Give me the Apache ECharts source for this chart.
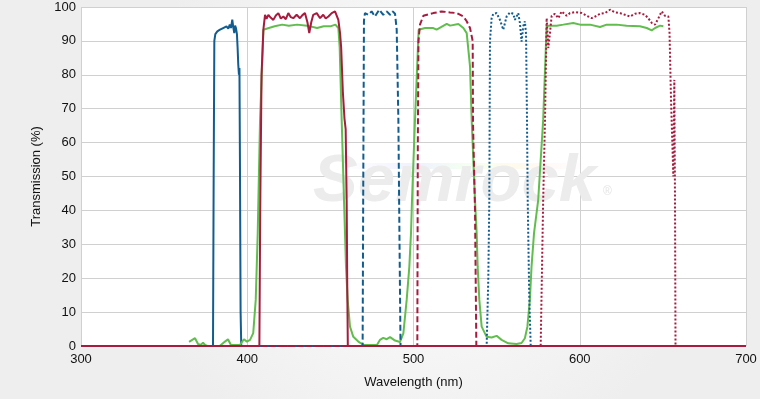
<!DOCTYPE html>
<html>
<head>
<meta charset="utf-8">
<script src="https://cdn.jsdelivr.net/npm/echarts@6/dist/echarts.min.js"></script>
<style>
  html, body { margin: 0; padding: 0; }
  #chart { width: 760px; height: 399px; }
</style>
</head>
<body>
<div id="chart"></div>
<script>
// wavelength (nm), transmission (%)
const blueSolid = [
  [300,0],[379.4,0],[379.8,50],[380.2,90],[380.8,92],[382,92.8],[383.6,93.3],[384.5,92.8],[385.5,93.8],
  [386.6,93.5],[387.5,94.3],[388.6,93.6],[389.5,94.8],[390.2,93.8],[391,96.3],[391.6,94],[392.2,92.3],
  [392.7,94.5],[393.2,93.8],[393.8,92],[394.2,88],[394.6,83],[395,80],[395.3,82],[395.6,55],[396,10],
  [396.4,0],[700,0]
]
const greenSolid = [
  [365,1.2],[368.6,2.3],[370.4,0.6],[372,0.3],[373.4,1],[374.6,0.3],[376,0],[383.6,0.1],[386.6,1.3],
  [388.4,2],[390.2,0.3],[395.6,0.3],[398,2],[399.8,1.3],[401.7,1.8],[403.6,3.8],[405.1,13.6],[405.7,23.4],
  [406.3,33.3],[406.7,43],[407.7,66.7],[409.7,93.3],[413,93.8],[416.5,94.3],[421,94.8],[425,94.5],
  [430,94.8],[436,94.5],[442,93.8],[446,94.3],[450,94.3],[453,94.8],[454.8,93.8],[455.6,88],[456.8,66.7],
  [458.2,43],[458.8,33.3],[459.4,23.4],[460.4,13.6],[461.8,5.7],[463.8,2.7],[466.8,1.3],[470,0.3],
  [478,0.3],[479.8,1.8],[481.8,2.4],[483.9,2],[485.9,2.6],[488.9,1.6],[491.9,1.2],[493.9,3.7],
  [495.9,13.6],[497.5,23.4],[498.5,33.3],[499.1,43],[500.9,66.7],[503.1,93.3],[507,93.8],[511.9,93.8],
  [513.9,93.3],[520,95],[522,94.5],[527,95],[530,93.8],[532,92.3],[534,82.5],[535,66.7],[537,43],
  [538,33.3],[538.6,23.4],[539.6,13.6],[541,5.7],[544,2.7],[547,2.5],[550,3],[553,1.8],[557,0.8],
  [562,0.6],[565,0.9],[567,2.3],[568.5,5.7],[570,13.6],[571,23.4],[572.5,33.3],[575,43],[578,66.7],
  [580.1,94.5],[586.1,94.5],[590.1,94.8],[596.1,95.3],[600.2,94.8],[606.2,94.8],[612.2,94.1],
  [616.2,94.8],[622.2,94.8],[628.2,94.5],[636.2,94.3],[640.3,93.8],[643.3,93.1],[645.3,93.8],
  [648.3,94.5],[650.3,94.3]
]
const redSolid = [
  [300,0],[407.3,0],[407.8,40],[408.6,80],[409.7,93.3],[410.7,97.7],[411.6,96.5],[412.7,97.7],
  [414.2,96.8],[415.7,96.2],[417.2,97.5],[418.7,98.2],[420.2,96.6],[421.7,97.2],[423.2,96.4],
  [424.7,98.2],[426.2,97],[427.7,96.7],[429.7,97.7],[431.7,96.7],[433.2,97.6],[434.7,98.2],
  [436.2,95.5],[437.3,92.3],[438.5,95.5],[439.7,97.7],[441.8,98.2],[443.8,96.7],[445.7,97.7],
  [447.2,96.6],[448.8,97.2],[450.8,98.2],[452.8,98.7],[454.8,96.2],[455.8,92.4],[456.5,88],
  [457.5,75],[458.5,67],[459.2,64],[459.8,43],[460.2,15],[460.5,0],[700,0]
]
const blueDashed = [
  [300,0],[469.4,0],[469.8,50],[470.2,96],[470.8,98.2],[472.8,97.7],[474.8,98.7],[476.8,97.2],
  [479.4,99.2],[481.8,97.7],[483.9,98.7],[485.9,97.7],[487.5,98.7],[488.9,98],[489.9,93.3],
  [490.9,66.7],[491.6,30],[492.2,0],[700,0]
]
const redDashed = [
  [300,0],[502.3,0],[502.6,60],[503,90],[503.9,94.8],[505.9,97.4],[511.9,98.2],[517,98.7],[522,98.4],
  [526,98.2],[530,97.2],[532,95.8],[534,93.8],[535,93.3],[535.6,90],[535.8,66],[537,40],[537.8,0],[700,0]
]
const blueDotted = [
  [300,0],[544,0],[545,20],[545.6,43],[546,90],[547,96.7],[548,98],[550,98.2],[552,96.2],[554,93.3],
  [556,97.2],[558,98.4],[560,98],[561,96.2],[563,98.2],[564,95.3],[565,89.8],[566,94.3],[567,95.8],
  [567.7,92],[568.2,70],[568.7,43],[569.6,15],[570.5,0],[700,0]
]
const redDotted = [
  [300,0],[576.5,0],[578,43],[579.1,66.7],[580.1,96.7],[581.1,87.9],[582.1,92.3],[583.1,97.4],
  [585.1,98],[587.1,96.7],[589.1,98.7],[592.1,97.4],[594.1,98.2],[597.1,98.5],[601.2,98.2],
  [604.2,97.4],[607.2,96.7],[610.2,97.4],[612.2,98],[615.2,98.2],[618.2,99.2],[621.2,98.4],
  [624.2,98.2],[627.2,97.7],[630.2,97.2],[633.2,98],[636.2,98.2],[639.2,97.7],[641.2,96.7],
  [643.3,95.3],[645.3,94.8],[647.3,96.7],[649.3,98.7],[651.3,97.4],[653.3,97.2],[654,92.4],
  [654.9,72.6],[655.5,63],[656.3,50],[656.9,78.5],[657.3,43],[657.6,0],[700,0]
]
const xTicks = [300, 400, 500, 600, 700]
const yTicks = [0, 10, 20, 30, 40, 50, 60, 70, 80, 90, 100]

const BLUE = '#115d8f'
const RED = '#a51c3e'
const GREEN = '#62bd4f'
const FONT = '"Liberation Sans", Arial, sans-serif'

function line(name, data, color, type) {
  return {
    name: name,
    type: 'line',
    data: data,
    showSymbol: false,
    symbol: 'none',
    silent: true,
    animation: false,
    z: 3,
    lineStyle: { color: color, width: 2, type: type }
  }
}

const chart = echarts.init(document.getElementById('chart'))
chart.setOption({
  animation: false,
  backgroundColor: {
    type: 'radial', x: 0.55, y: 0.45, r: 0.75,
    colorStops: [{ offset: 0, color: '#ffffff' }, { offset: 1, color: '#eeeeee' }]
  },
  // faint watermark behind the curves
  graphic: [
    {
      type: 'rect', silent: true, z: 1,
      shape: { x: 345, y: 163, width: 240, height: 6 },
      style: {
        opacity: 0.3,
        fill: {
          type: 'linear', x: 0, y: 0, x2: 1, y2: 0,
          colorStops: [
            { offset: 0, color: 'rgba(200,200,255,0)' },
            { offset: 0.3, color: '#c8d0ff' },
            { offset: 0.5, color: '#d8ffd0' },
            { offset: 0.7, color: '#fff0c0' },
            { offset: 1, color: 'rgba(255,200,200,0)' }
          ]
        }
      }
    },
    {
      type: 'text', silent: true, z: 1,
      left: 313, top: 149,
      style: {
        text: 'Semrock',
        font: 'italic bold 67px ' + FONT,
        fill: '#ececec'
      }
    },
    {
      type: 'text', silent: true, z: 1,
      left: 603, top: 186,
      style: { text: '®', font: '12px ' + FONT, fill: '#e4e4e4' }
    }
  ],
  grid: {
    left: 81, right: 14, top: 7, bottom: 53,
    show: true, backgroundColor: '#ffffff', borderWidth: 0
  },
  xAxis: {
    type: 'value', min: 300, max: 700, interval: 100,
    name: 'Wavelength (nm)', nameLocation: 'middle', nameGap: 30,
    nameTextStyle: { fontFamily: FONT, fontSize: 13, color: '#111' },
    axisLine: { show: false }, axisTick: { show: false },
    axisLabel: {
      margin: 7, fontFamily: FONT, fontSize: 13, color: '#111',
      formatter: v => xTicks.includes(v) ? String(v) : ''
    },
    splitLine: { show: true, lineStyle: { color: '#d0d0d0', width: 1 } }
  },
  yAxis: {
    type: 'value', min: 0, max: 100, interval: 10,
    name: 'Transmission (%)', nameLocation: 'middle', nameGap: 37, nameRotate: 90,
    nameTextStyle: { fontFamily: FONT, fontSize: 13, color: '#111' },
    axisLine: { show: false }, axisTick: { show: false },
    axisLabel: {
      margin: 5, fontFamily: FONT, fontSize: 13, color: '#111',
      formatter: v => yTicks.includes(v) ? String(v) : ''
    },
    splitLine: { show: true, lineStyle: { color: '#d0d0d0', width: 1 } }
  },
  series: [
    line('Blue 1', blueSolid, BLUE, 'solid'),
    line('Green', greenSolid, GREEN, 'solid'),
    line('Blue 2', blueDashed, BLUE, [6, 3]),
    line('Red 2', redDashed, RED, [6, 3]),
    line('Blue 3', blueDotted, BLUE, [2, 2]),
    line('Red 3', redDotted, RED, [2, 2]),
    line('Red 1', redSolid, RED, 'solid')
  ]
})
</script>
</body>
</html>
